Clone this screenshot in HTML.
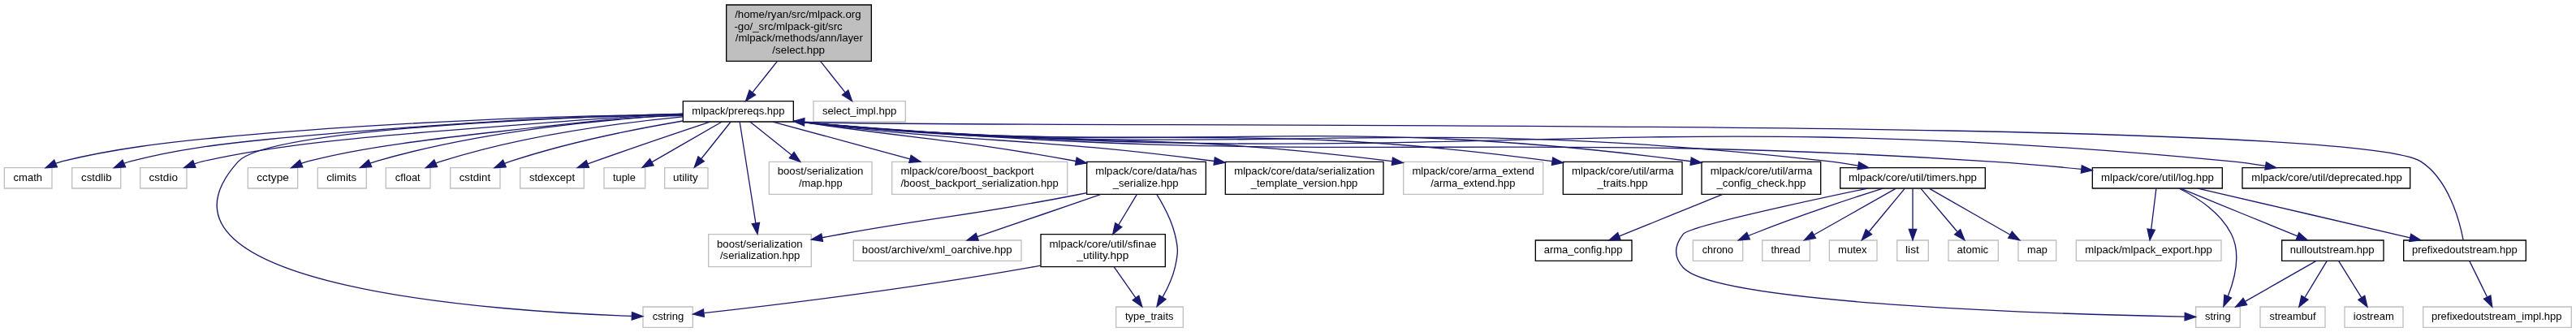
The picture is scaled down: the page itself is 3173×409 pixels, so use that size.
<!DOCTYPE html>
<html><head><meta charset="utf-8"><title>select.hpp include graph</title>
<style>
html,body{margin:0;padding:0;background:#fff;}
body{width:3173px;height:409px;overflow:hidden;}
svg{display:block;will-change:transform;}
svg text{font-family:"Liberation Sans",sans-serif;font-size:10px;fill:#000;}
</style></head><body>
<svg width="3173" height="409" viewBox="0 0 2379.75 306.75">
<g id="graph0" class="graph" transform="scale(1 1) rotate(0) translate(4 303)">
<polygon fill="white" stroke="transparent" points="-4,4 -4,-303 2375.5,-303 2375.5,4 -4,4"/>
<polygon fill="#bfbfbf" stroke="black" points="667,-246.5 667,-298.5 801,-298.5 801,-246.5 667,-246.5"/>
<text text-anchor="start" x="674.85" y="-286.5" textLength="116.60" lengthAdjust="spacingAndGlyphs">/home/ryan/src/mlpack.org</text>
<text text-anchor="start" x="674.33" y="-275.5" textLength="99.94" lengthAdjust="spacingAndGlyphs">&#45;go/_src/mlpack&#45;git/src</text>
<text text-anchor="start" x="675.30" y="-264.5" textLength="117.79" lengthAdjust="spacingAndGlyphs">/mlpack/methods/ann/layer</text>
<text text-anchor="middle" x="733.77" y="-253.5" textLength="48.54" lengthAdjust="spacingAndGlyphs">/select.hpp</text>
<polygon fill="white" stroke="black" points="627,-190.5 627,-209.5 729,-209.5 729,-190.5 627,-190.5"/>
<text text-anchor="middle" x="678.08" y="-197.5" textLength="85.69" lengthAdjust="spacingAndGlyphs">mlpack/prereqs.hpp</text>
<path fill="none" stroke="#191970" d="M714.1,-246.45C706.54,-236.93 698.12,-226.33 691.31,-217.76"/>
<polygon fill="#191970" stroke="#191970" points="693.87,-215.35 684.91,-209.7 688.39,-219.7 693.87,-215.35"/>
<polygon fill="white" stroke="#bfbfbf" points="747.5,-190.5 747.5,-209.5 832.5,-209.5 832.5,-190.5 747.5,-190.5"/>
<text text-anchor="middle" x="790.00" y="-197.5" textLength="68.62" lengthAdjust="spacingAndGlyphs">select_impl.hpp</text>
<path fill="none" stroke="#191970" d="M753.9,-246.45C761.46,-236.93 769.88,-226.33 776.69,-217.76"/>
<polygon fill="#191970" stroke="#191970" points="779.61,-219.7 783.09,-209.7 774.13,-215.35 779.61,-219.7"/>
<polygon fill="white" stroke="#bfbfbf" points="0,-129 0,-148 44,-148 44,-129 0,-129"/>
<text text-anchor="middle" x="21.70" y="-136" textLength="26.57" lengthAdjust="spacingAndGlyphs">cmath</text>
<path fill="none" stroke="#191970" d="M626.79,-197.70C579.04,-196.49 531.30,-195.74 483.54,-194.02 435.80,-192.30 388.05,-189.80 340.30,-186.79 292.55,-183.78 244.80,-180.45 197.06,-175.88 149.31,-171.30 101.57,-165.68 53.82,-154.00 51.84,-153.48 49.82,-152.84 47.84,-152.12"/>
<polygon fill="#191970" stroke="#191970" points="48.76,-148.71 38.18,-148.03 46.03,-155.16 48.76,-148.71"/>
<polygon fill="white" stroke="#bfbfbf" points="62.5,-129 62.5,-148 107.5,-148 107.5,-129 62.5,-129"/>
<text text-anchor="middle" x="85.08" y="-136" textLength="28.11" lengthAdjust="spacingAndGlyphs">cstdlib</text>
<path fill="none" stroke="#191970" d="M626.73,-197.25C584.25,-196.03 541.77,-195.19 499.29,-193.21 456.81,-191.23 414.33,-188.34 371.85,-185.12 329.36,-181.90 286.88,-178.59 244.40,-174.37 201.92,-170.14 159.44,-165.25 116.96,-154.00 114.99,-153.48 112.98,-152.83 110.98,-152.10"/>
<polygon fill="#191970" stroke="#191970" points="111.91,-148.69 101.33,-148.01 109.17,-155.14 111.91,-148.69"/>
<polygon fill="white" stroke="#bfbfbf" points="125.5,-129 125.5,-148 168.5,-148 168.5,-129 125.5,-129"/>
<text text-anchor="middle" x="146.93" y="-136" textLength="26.59" lengthAdjust="spacingAndGlyphs">cstdio</text>
<path fill="none" stroke="#191970" d="M626.97,-197.77C590.03,-196.20 553.10,-193.55 516.16,-190.79 479.22,-188.04 442.29,-185.17 405.35,-182.18 368.42,-179.20 331.48,-176.09 294.54,-171.88 257.60,-167.67 220.67,-162.36 183.74,-154.00 181.07,-153.36 178.35,-152.55 175.64,-151.65"/>
<polygon fill="#191970" stroke="#191970" points="176.69,-148.30 166.09,-148.09 174.24,-154.86 176.69,-148.30"/>
<polygon fill="white" stroke="#bfbfbf" points="590,-0.5 590,-19.5 636,-19.5 636,-0.5 590,-0.5"/>
<text text-anchor="middle" x="613.23" y="-7.5" textLength="28.98" lengthAdjust="spacingAndGlyphs">cstring</text>
<path fill="none" stroke="#191970" d="M626.96,-197.81C512.50,-194.54 243.21,-183.69 216.00,-153.67 109.54,-36.20 466.30,-14.78 579.59,-10.96"/>
<polygon fill="#191970" stroke="#191970" points="579.89,-14.46 589.77,-10.66 579.67,-7.45 579.89,-14.46"/>
<polygon fill="white" stroke="#bfbfbf" points="225,-129 225,-148 271,-148 271,-129 225,-129"/>
<text text-anchor="middle" x="248.07" y="-136" textLength="29.82" lengthAdjust="spacingAndGlyphs">cctype</text>
<path fill="none" stroke="#191970" d="M626.78,-195.97C597.95,-195.85 569.11,-193.48 540.28,-190.63 511.46,-187.77 482.63,-184.43 453.79,-181.10 424.96,-177.78 396.13,-174.46 367.29,-170.41 338.47,-166.35 309.64,-161.56 280.81,-154.00 278.66,-153.41 276.48,-152.69 274.31,-151.89"/>
<polygon fill="#191970" stroke="#191970" points="275.64,-148.65 265.06,-148.04 272.95,-155.12 275.64,-148.65"/>
<polygon fill="white" stroke="#bfbfbf" points="289.5,-129 289.5,-148 334.5,-148 334.5,-129 289.5,-129"/>
<text text-anchor="middle" x="311.55" y="-136" textLength="27.77" lengthAdjust="spacingAndGlyphs">climits</text>
<path fill="none" stroke="#191970" d="M626.77,-196.94C560.33,-193.18 441.26,-182.72 343.66,-154.00 341.79,-153.45 339.88,-152.80 337.98,-152.08"/>
<polygon fill="#191970" stroke="#191970" points="339.30,-148.84 328.73,-148.14 336.55,-155.28 339.30,-148.84"/>
<polygon fill="white" stroke="#bfbfbf" points="352.5,-129 352.5,-148 393.5,-148 393.5,-129 352.5,-129"/>
<text text-anchor="middle" x="372.70" y="-136" textLength="23.08" lengthAdjust="spacingAndGlyphs">cfloat</text>
<path fill="none" stroke="#191970" d="M626.80,-195.06C570.99,-189.73 479.41,-177.99 403.81,-154.00 402.14,-153.47 400.46,-152.87 398.77,-152.21"/>
<polygon fill="#191970" stroke="#191970" points="399.91,-148.89 389.35,-148.06 397.09,-155.29 399.91,-148.89"/>
<polygon fill="white" stroke="#bfbfbf" points="412,-129 412,-148 458,-148 458,-129 412,-129"/>
<text text-anchor="middle" x="434.70" y="-136" textLength="28.84" lengthAdjust="spacingAndGlyphs">cstdint</text>
<path fill="none" stroke="#191970" d="M626.88,-191.27C583.85,-183.99 520.89,-171.56 467.80,-154.00 465.94,-153.39 464.05,-152.70 462.14,-151.96"/>
<polygon fill="#191970" stroke="#191970" points="463.39,-148.69 452.82,-148.02 460.68,-155.14 463.39,-148.69"/>
<polygon fill="white" stroke="#bfbfbf" points="476.5,-129 476.5,-148 535.5,-148 535.5,-129 476.5,-129"/>
<text text-anchor="middle" x="506.00" y="-136" textLength="42.11" lengthAdjust="spacingAndGlyphs">stdexcept</text>
<path fill="none" stroke="#191970" d="M651.93,-190.43C625.24,-181.54 582.49,-167.13 545.77,-154.00 543.55,-153.20 541.26,-152.37 538.96,-151.53"/>
<polygon fill="#191970" stroke="#191970" points="540.07,-148.21 529.47,-148.05 537.65,-154.78 540.07,-148.21"/>
<polygon fill="white" stroke="#bfbfbf" points="554,-129 554,-148 592,-148 592,-129 554,-129"/>
<text text-anchor="middle" x="572.70" y="-136" textLength="20.90" lengthAdjust="spacingAndGlyphs">tuple</text>
<path fill="none" stroke="#191970" d="M662.96,-190.48C646.07,-180.77 618.19,-164.74 598.32,-153.31"/>
<polygon fill="#191970" stroke="#191970" points="599.79,-150.11 589.37,-148.23 596.34,-156.20 599.79,-150.11"/>
<polygon fill="white" stroke="#bfbfbf" points="610,-129 610,-148 650,-148 650,-129 610,-129"/>
<text text-anchor="middle" x="629.25" y="-136" textLength="23.01" lengthAdjust="spacingAndGlyphs">utility</text>
<path fill="none" stroke="#191970" d="M671.12,-190.48C664.01,-181.56 652.61,-167.27 643.76,-156.19"/>
<polygon fill="#191970" stroke="#191970" points="646.47,-153.97 637.46,-148.38 641.02,-158.37 646.47,-153.97"/>
<polygon fill="white" stroke="#bfbfbf" points="650.5,-56.5 650.5,-86.5 745.5,-86.5 745.5,-56.5 650.5,-56.5"/>
<text text-anchor="start" x="658.27" y="-74.5" textLength="79.22" lengthAdjust="spacingAndGlyphs">boost/serialization</text>
<text text-anchor="middle" x="698.15" y="-63.5" textLength="73.82" lengthAdjust="spacingAndGlyphs">/serialization.hpp</text>
<path fill="none" stroke="#191970" d="M679.37,-190.31C682.38,-171.3 689.63,-125.47 694.14,-96.9"/>
<polygon fill="#191970" stroke="#191970" points="697.62,-97.31 695.73,-86.89 690.71,-96.22 697.62,-97.31"/>
<polygon fill="white" stroke="#bfbfbf" points="706.5,-123.5 706.5,-153.5 801.5,-153.5 801.5,-123.5 706.5,-123.5"/>
<text text-anchor="start" x="714.27" y="-141.5" textLength="79.22" lengthAdjust="spacingAndGlyphs">boost/serialization</text>
<text text-anchor="middle" x="754.08" y="-130.5" textLength="40.27" lengthAdjust="spacingAndGlyphs">/map.hpp</text>
<path fill="none" stroke="#191970" d="M688.89,-190.48C698.88,-182.49 714.18,-170.25 727.28,-159.77"/>
<polygon fill="#191970" stroke="#191970" points="729.54,-162.44 735.26,-153.52 725.23,-156.93 729.54,-162.44"/>
<polygon fill="white" stroke="#bfbfbf" points="820,-123.5 820,-153.5 982,-153.5 982,-123.5 820,-123.5"/>
<text text-anchor="start" x="828.08" y="-141.5" textLength="123.02" lengthAdjust="spacingAndGlyphs">mlpack/core/boost_backport</text>
<text text-anchor="middle" x="900.92" y="-130.5" textLength="145.66" lengthAdjust="spacingAndGlyphs">/boost_backport_serialization.hpp</text>
<path fill="none" stroke="#191970" d="M709.95,-190.48C742.87,-181.55 795.41,-167.31 836.60,-156.14"/>
<polygon fill="#191970" stroke="#191970" points="837.65,-159.48 846.42,-153.52 835.86,-152.72 837.65,-159.48"/>
<polygon fill="white" stroke="black" points="1000,-123.5 1000,-153.5 1110,-153.5 1110,-123.5 1000,-123.5"/>
<text text-anchor="start" x="1007.92" y="-141.5" textLength="93.88" lengthAdjust="spacingAndGlyphs">mlpack/core/data/has</text>
<text text-anchor="middle" x="1054.40" y="-130.5" textLength="60.70" lengthAdjust="spacingAndGlyphs">_serialize.hpp</text>
<path fill="none" stroke="#191970" d="M729.06,-191.31C732.08,-190.87 735.08,-190.43 738,-190 847.2,-174.04 877.6,-174.52 989.87,-154.12"/>
<polygon fill="#191970" stroke="#191970" points="990.7,-157.53 999.9,-152.28 989.43,-150.64 990.7,-157.53"/>
<polygon fill="white" stroke="black" points="1128,-123.5 1128,-153.5 1274,-153.5 1274,-123.5 1128,-123.5"/>
<text text-anchor="start" x="1136.15" y="-141.5" textLength="129.84" lengthAdjust="spacingAndGlyphs">mlpack/core/data/serialization</text>
<text text-anchor="middle" x="1200.92" y="-130.5" textLength="98.72" lengthAdjust="spacingAndGlyphs">_template_version.hpp</text>
<path fill="none" stroke="#191970" d="M729.04,-191.15C732.07,-190.74 735.07,-190.36 738,-190 903.62,-169.77 948.74,-176.55 1117.74,-154.1"/>
<polygon fill="#191970" stroke="#191970" points="1118.28,-157.56 1127.73,-152.76 1117.35,-150.62 1118.28,-157.56"/>
<polygon fill="white" stroke="#bfbfbf" points="1292.5,-123.5 1292.5,-153.5 1421.5,-153.5 1421.5,-123.5 1292.5,-123.5"/>
<text text-anchor="start" x="1300.58" y="-141.5" textLength="112.72" lengthAdjust="spacingAndGlyphs">mlpack/core/arma_extend</text>
<text text-anchor="middle" x="1356.70" y="-130.5" textLength="78.17" lengthAdjust="spacingAndGlyphs">/arma_extend.hpp</text>
<path fill="none" stroke="#191970" d="M729.03,-191.05C732.06,-190.67 735.07,-190.32 738,-190 976.05,-164.33 1040.54,-184.83 1281.96,-154.01"/>
<polygon fill="#191970" stroke="#191970" points="1282.64,-157.46 1292.1,-152.7 1281.74,-150.51 1282.64,-157.46"/>
<polygon fill="white" stroke="black" points="1440,-123.5 1440,-153.5 1550,-153.5 1550,-123.5 1440,-123.5"/>
<text text-anchor="start" x="1448.08" y="-141.5" textLength="94.05" lengthAdjust="spacingAndGlyphs">mlpack/core/util/arma</text>
<text text-anchor="middle" x="1494.92" y="-130.5" textLength="46.69" lengthAdjust="spacingAndGlyphs">_traits.hpp</text>
<path fill="none" stroke="#191970" d="M729.02,-191C732.06,-190.63 735.07,-190.3 738,-190 1041.57,-159.42 1123.73,-195.44 1429.9,-153.98"/>
<polygon fill="#191970" stroke="#191970" points="1430.52,-157.43 1439.95,-152.6 1429.57,-150.49 1430.52,-157.43"/>
<polygon fill="white" stroke="black" points="1568,-123.5 1568,-153.5 1678,-153.5 1678,-123.5 1568,-123.5"/>
<text text-anchor="start" x="1576.08" y="-141.5" textLength="94.24" lengthAdjust="spacingAndGlyphs">mlpack/core/util/arma</text>
<text text-anchor="middle" x="1623.08" y="-130.5" textLength="82.37" lengthAdjust="spacingAndGlyphs">_config_check.hpp</text>
<path fill="none" stroke="#191970" d="M729.02,-190.97C732.05,-190.61 735.06,-190.28 738,-190 1098.26,-155.18 1195.25,-201.69 1557.97,-153.96"/>
<polygon fill="#191970" stroke="#191970" points="1558.5,-157.42 1567.96,-152.63 1557.58,-150.48 1558.5,-157.42"/>
<polygon fill="white" stroke="black" points="1696,-129 1696,-148 1830,-148 1830,-129 1696,-129"/>
<text text-anchor="middle" x="1763.00" y="-136" textLength="118.41" lengthAdjust="spacingAndGlyphs">mlpack/core/util/timers.hpp</text>
<path fill="none" stroke="#191970" d="M729.02,-190.95C732.04,-190.60 735.05,-190.28 737.98,-190.00 1157.37,-150.63 1266.50,-201.69 1685.03,-154.00 1693.93,-152.99 1703.36,-151.51 1712.42,-149.89"/>
<polygon fill="#191970" stroke="#191970" points="1713.29,-153.29 1722.48,-148.01 1712.01,-146.41 1713.29,-153.29"/>
<polygon fill="white" stroke="black" points="1929,-129 1929,-148 2049,-148 2049,-129 1929,-129"/>
<text text-anchor="middle" x="1989.08" y="-136" textLength="104.18" lengthAdjust="spacingAndGlyphs">mlpack/core/util/log.hpp</text>
<path fill="none" stroke="#191970" d="M729.01,-190.94C732.05,-190.58 735.06,-190.27 738.00,-190.00 1225.58,-145.39 1350.42,-185.29 1839.00,-153.51 1865.04,-151.82 1893.57,-149.23 1918.68,-146.70"/>
<polygon fill="#191970" stroke="#191970" points="1919.26,-150.16 1928.86,-145.67 1918.55,-143.20 1919.26,-150.16"/>
<polygon fill="white" stroke="black" points="2067.5,-129 2067.5,-148 2222.5,-148 2222.5,-129 2067.5,-129"/>
<text text-anchor="middle" x="2145.53" y="-136" textLength="139.15" lengthAdjust="spacingAndGlyphs">mlpack/core/util/deprecated.hpp</text>
<path fill="none" stroke="#191970" d="M729.01,-190.92C732.05,-190.57 735.05,-190.26 737.99,-190.00 1321.74,-138.38 1472.71,-210.38 2056.02,-154.00 2066.64,-152.97 2077.91,-151.43 2088.69,-149.73"/>
<polygon fill="#191970" stroke="#191970" points="2089.57,-153.13 2098.88,-148.06 2088.43,-146.23 2089.57,-153.13"/>
<path fill="none" stroke="#191970" d="M999.88,-124.8C996.88,-124.18 993.91,-123.57 991,-123 895.5,-104.24 870.83,-104.01 775,-87 768.76,-85.89 762.24,-84.71 755.75,-83.51"/>
<polygon fill="#191970" stroke="#191970" points="756.09,-80.01 745.62,-81.63 754.81,-86.9 756.09,-80.01"/>
<polygon fill="white" stroke="#bfbfbf" points="784.5,-62 784.5,-81 939.5,-81 939.5,-62 784.5,-62"/>
<text text-anchor="middle" x="861.70" y="-69" textLength="138.61" lengthAdjust="spacingAndGlyphs">boost/archive/xml_oarchive.hpp</text>
<path fill="none" stroke="#191970" d="M1013.12,-123.40C978.97,-111.69 930.95,-95.23 898.87,-84.23"/>
<polygon fill="#191970" stroke="#191970" points="899.88,-80.88 889.28,-81.01 897.64,-87.52 899.88,-80.88"/>
<polygon fill="white" stroke="black" points="957.5,-56.5 957.5,-86.5 1072.5,-86.5 1072.5,-56.5 957.5,-56.5"/>
<text text-anchor="start" x="965.35" y="-74.5" textLength="98.89" lengthAdjust="spacingAndGlyphs">mlpack/core/util/sfinae</text>
<text text-anchor="middle" x="1014.70" y="-63.5" textLength="47.90" lengthAdjust="spacingAndGlyphs">_utility.hpp</text>
<path fill="none" stroke="#191970" d="M1046.32,-123.40C1041.35,-115.13 1034.95,-104.51 1029.29,-95.10"/>
<polygon fill="#191970" stroke="#191970" points="1032.26,-93.26 1024.03,-86.58 1026.30,-96.93 1032.26,-93.26"/>
<polygon fill="white" stroke="#bfbfbf" points="1027,-0.5 1027,-19.5 1089,-19.5 1089,-0.5 1027,-0.5"/>
<text text-anchor="middle" x="1057.78" y="-7.5" textLength="44.65" lengthAdjust="spacingAndGlyphs">type_traits</text>
<path fill="none" stroke="#191970" d="M1064.70,-123.21C1070.78,-113.47 1078.02,-100.03 1081.27,-87.00 1084.60,-73.61 1084.60,-69.40 1081.48,-56.00 1079.23,-46.42 1074.59,-36.58 1070.10,-28.56"/>
<polygon fill="#191970" stroke="#191970" points="1072.96,-26.54 1064.77,-19.81 1066.98,-30.17 1072.96,-26.54"/>
<path fill="none" stroke="#191970" d="M957.31,-57.71C954.17,-57.10 951.05,-56.51 948.00,-55.98 838.12,-36.44 706.72,-20.61 646.34,-13.77"/>
<polygon fill="#191970" stroke="#191970" points="646.57,-10.27 636.25,-12.66 645.81,-17.23 646.57,-10.27"/>
<path fill="none" stroke="#191970" d="M1025.19,-56.40C1031.17,-47.84 1038.84,-36.87 1045.14,-27.86"/>
<polygon fill="#191970" stroke="#191970" points="1048.05,-29.81 1051.07,-19.66 1042.38,-25.71 1048.05,-29.81"/>
<polygon fill="white" stroke="black" points="1414.5,-62 1414.5,-81 1503.5,-81 1503.5,-62 1414.5,-62"/>
<text text-anchor="middle" x="1458.55" y="-69" textLength="72.54" lengthAdjust="spacingAndGlyphs">arma_config.hpp</text>
<path fill="none" stroke="#191970" d="M1587.41,-123.40C1558.98,-111.89 1519.23,-95.80 1492.08,-84.81"/>
<polygon fill="#191970" stroke="#191970" points="1493.08,-81.44 1482.49,-81.01 1490.50,-87.95 1493.08,-81.44"/>
<polygon fill="white" stroke="#bfbfbf" points="2024.5,-0.5 2024.5,-19.5 2065.5,-19.5 2065.5,-0.5 2024.5,-0.5"/>
<text text-anchor="middle" x="2044.85" y="-7.5" textLength="23.81" lengthAdjust="spacingAndGlyphs">string</text>
<path fill="none" stroke="#191970" d="M1721.44,-128.97C1661.24,-116.34 1556.33,-93.49 1551.00,-86.73 1542.46,-75.90 1541.71,-65.87 1551.00,-55.67 1582.30,-21.32 1911.32,-12.37 2014.34,-10.40"/>
<polygon fill="#191970" stroke="#191970" points="2014.47,-13.90 2024.41,-10.23 2014.35,-6.90 2014.47,-13.90"/>
<polygon fill="white" stroke="#bfbfbf" points="1560,-62 1560,-81 1606,-81 1606,-62 1560,-62"/>
<text text-anchor="middle" x="1582.92" y="-69" textLength="28.74" lengthAdjust="spacingAndGlyphs">chrono</text>
<path fill="none" stroke="#191970" d="M1735.43,-128.97C1705.69,-119.51 1656.92,-103.40 1615.80,-87.00 1614.39,-86.44 1612.96,-85.85 1611.51,-85.24"/>
<polygon fill="#191970" stroke="#191970" points="1612.54,-81.87 1601.98,-81.09 1609.75,-88.29 1612.54,-81.87"/>
<polygon fill="white" stroke="#bfbfbf" points="1624,-62 1624,-81 1668,-81 1668,-62 1624,-62"/>
<text text-anchor="middle" x="1645.62" y="-69" textLength="26.93" lengthAdjust="spacingAndGlyphs">thread</text>
<path fill="none" stroke="#191970" d="M1747.22,-128.73C1727.86,-117.77 1694.49,-98.88 1671.82,-86.05"/>
<polygon fill="#191970" stroke="#191970" points="1673.39,-82.92 1662.95,-81.13 1669.99,-89.04 1673.39,-82.92"/>
<polygon fill="white" stroke="#bfbfbf" points="1686,-62 1686,-81 1730,-81 1730,-62 1686,-62"/>
<text text-anchor="middle" x="1707.33" y="-69" textLength="26.62" lengthAdjust="spacingAndGlyphs">mutex</text>
<path fill="none" stroke="#191970" d="M1755.58,-128.73C1747.18,-118.60 1733.16,-101.69 1722.68,-89.06"/>
<polygon fill="#191970" stroke="#191970" points="1725.11,-86.50 1715.97,-81.13 1719.76,-91.02 1725.11,-86.50"/>
<polygon fill="white" stroke="#bfbfbf" points="1748.5,-62 1748.5,-81 1777.5,-81 1777.5,-62 1748.5,-62"/>
<text text-anchor="middle" x="1762.55" y="-69" textLength="12.47" lengthAdjust="spacingAndGlyphs">list</text>
<path fill="none" stroke="#191970" d="M1763,-128.73C1763,-119.18 1763,-103.62 1763,-91.28"/>
<polygon fill="#191970" stroke="#191970" points="1766.5,-91.13 1763,-81.13 1759.5,-91.13 1766.5,-91.13"/>
<polygon fill="white" stroke="#bfbfbf" points="1796,-62 1796,-81 1842,-81 1842,-62 1796,-62"/>
<text text-anchor="middle" x="1818.40" y="-69" textLength="28.92" lengthAdjust="spacingAndGlyphs">atomic</text>
<path fill="none" stroke="#191970" d="M1770.55,-128.73C1779.11,-118.60 1793.39,-101.69 1804.07,-89.06"/>
<polygon fill="#191970" stroke="#191970" points="1807.02,-90.99 1810.89,-81.13 1801.72,-86.42 1807.02,-90.99"/>
<polygon fill="white" stroke="#bfbfbf" points="1860.5,-62 1860.5,-81 1895.5,-81 1895.5,-62 1860.5,-62"/>
<text text-anchor="middle" x="1878.08" y="-69" textLength="18.56" lengthAdjust="spacingAndGlyphs">map</text>
<path fill="none" stroke="#191970" d="M1778.51,-128.73C1797.66,-117.77 1830.65,-98.88 1853.06,-86.05"/>
<polygon fill="#191970" stroke="#191970" points="1854.78,-89.09 1861.77,-81.13 1851.34,-83.00 1854.78,-89.09"/>
<path fill="none" stroke="#191970" d="M2008.90,-128.99C2025.22,-120.84 2047.17,-106.84 2057.23,-87.00 2066.46,-68.79 2060.53,-45.29 2054.23,-29.27"/>
<polygon fill="#191970" stroke="#191970" points="2057.37,-27.72 2050.16,-19.96 2050.95,-30.53 2057.37,-27.72"/>
<polygon fill="white" stroke="#bfbfbf" points="1914,-62 1914,-81 2048,-81 2048,-62 1914,-62"/>
<text text-anchor="middle" x="1980.92" y="-69" textLength="117.48" lengthAdjust="spacingAndGlyphs">mlpack/mlpack_export.hpp</text>
<path fill="none" stroke="#191970" d="M1987.92,-128.73C1986.75,-119.18 1984.83,-103.62 1983.31,-91.28"/>
<polygon fill="#191970" stroke="#191970" points="1986.76,-90.62 1982.06,-81.13 1979.81,-91.48 1986.76,-90.62"/>
<polygon fill="white" stroke="black" points="2104,-62 2104,-81 2198,-81 2198,-62 2104,-62"/>
<text text-anchor="middle" x="2150.55" y="-69" textLength="77.88" lengthAdjust="spacingAndGlyphs">nulloutstream.hpp</text>
<path fill="none" stroke="#191970" d="M2010.51,-128.87C2038.19,-117.57 2086.87,-97.70 2118.43,-84.82"/>
<polygon fill="#191970" stroke="#191970" points="2119.80,-88.04 2127.78,-81.06 2117.20,-81.54 2119.80,-88.04"/>
<polygon fill="white" stroke="black" points="2216.5,-62 2216.5,-81 2329.5,-81 2329.5,-62 2216.5,-62"/>
<text text-anchor="middle" x="2272.85" y="-69" textLength="97.28" lengthAdjust="spacingAndGlyphs">prefixedoutstream.hpp</text>
<path fill="none" stroke="#191970" d="M2026.42,-128.94C2076.78,-117.22 2167.16,-96.19 2222.26,-83.38"/>
<polygon fill="#191970" stroke="#191970" points="2223.31,-86.73 2232.28,-81.08 2221.74,-79.90 2223.31,-86.73"/>
<path fill="none" stroke="#191970" d="M2135.81,-61.98C2118.63,-52.17 2090.20,-35.93 2070.05,-24.42"/>
<polygon fill="#191970" stroke="#191970" points="2071.72,-21.35 2061.28,-19.51 2068.30,-27.46 2071.72,-21.35"/>
<polygon fill="white" stroke="#bfbfbf" points="2084,-0.5 2084,-19.5 2144,-19.5 2144,-0.5 2084,-0.5"/>
<text text-anchor="middle" x="2114.00" y="-7.5" textLength="42.76" lengthAdjust="spacingAndGlyphs">streambuf</text>
<path fill="none" stroke="#191970" d="M2145.70,-61.98C2140.42,-53.23 2132.04,-39.37 2125.36,-28.31"/>
<polygon fill="#191970" stroke="#191970" points="2128.14,-26.15 2119.89,-19.51 2122.20,-29.85 2128.14,-26.15"/>
<polygon fill="white" stroke="#bfbfbf" points="2162,-0.5 2162,-19.5 2216,-19.5 2216,-0.5 2162,-0.5"/>
<text text-anchor="middle" x="2188.85" y="-7.5" textLength="37.41" lengthAdjust="spacingAndGlyphs">iostream</text>
<path fill="none" stroke="#191970" d="M2156.44,-61.98C2161.93,-53.14 2170.66,-39.09 2177.56,-27.98"/>
<polygon fill="#191970" stroke="#191970" points="2180.53,-29.82 2182.97,-19.51 2174.63,-26.05 2180.53,-29.82"/>
<path fill="none" stroke="#191970" d="M2271.62,-81.1C2268.33,-98.44 2258.23,-137.39 2232,-154 2163.77,-197.2 893.11,-183.64 739.29,-190.29"/>
<polygon fill="#191970" stroke="#191970" points="738.79,-186.82 729.01,-190.91 739.2,-193.81 738.79,-186.82"/>
<polygon fill="white" stroke="#bfbfbf" points="2234.5,-0.5 2234.5,-19.5 2371.5,-19.5 2371.5,-0.5 2234.5,-0.5"/>
<text text-anchor="middle" x="2302.47" y="-7.5" textLength="120.39" lengthAdjust="spacingAndGlyphs">prefixedoutstream_impl.hpp</text>
<path fill="none" stroke="#191970" d="M2277.30,-61.98C2281.54,-53.32 2288.26,-39.65 2293.65,-28.65"/>
<polygon fill="#191970" stroke="#191970" points="2296.88,-30.01 2298.26,-19.51 2290.63,-26.86 2296.88,-30.01"/>
</g>
</svg>
</body></html>
